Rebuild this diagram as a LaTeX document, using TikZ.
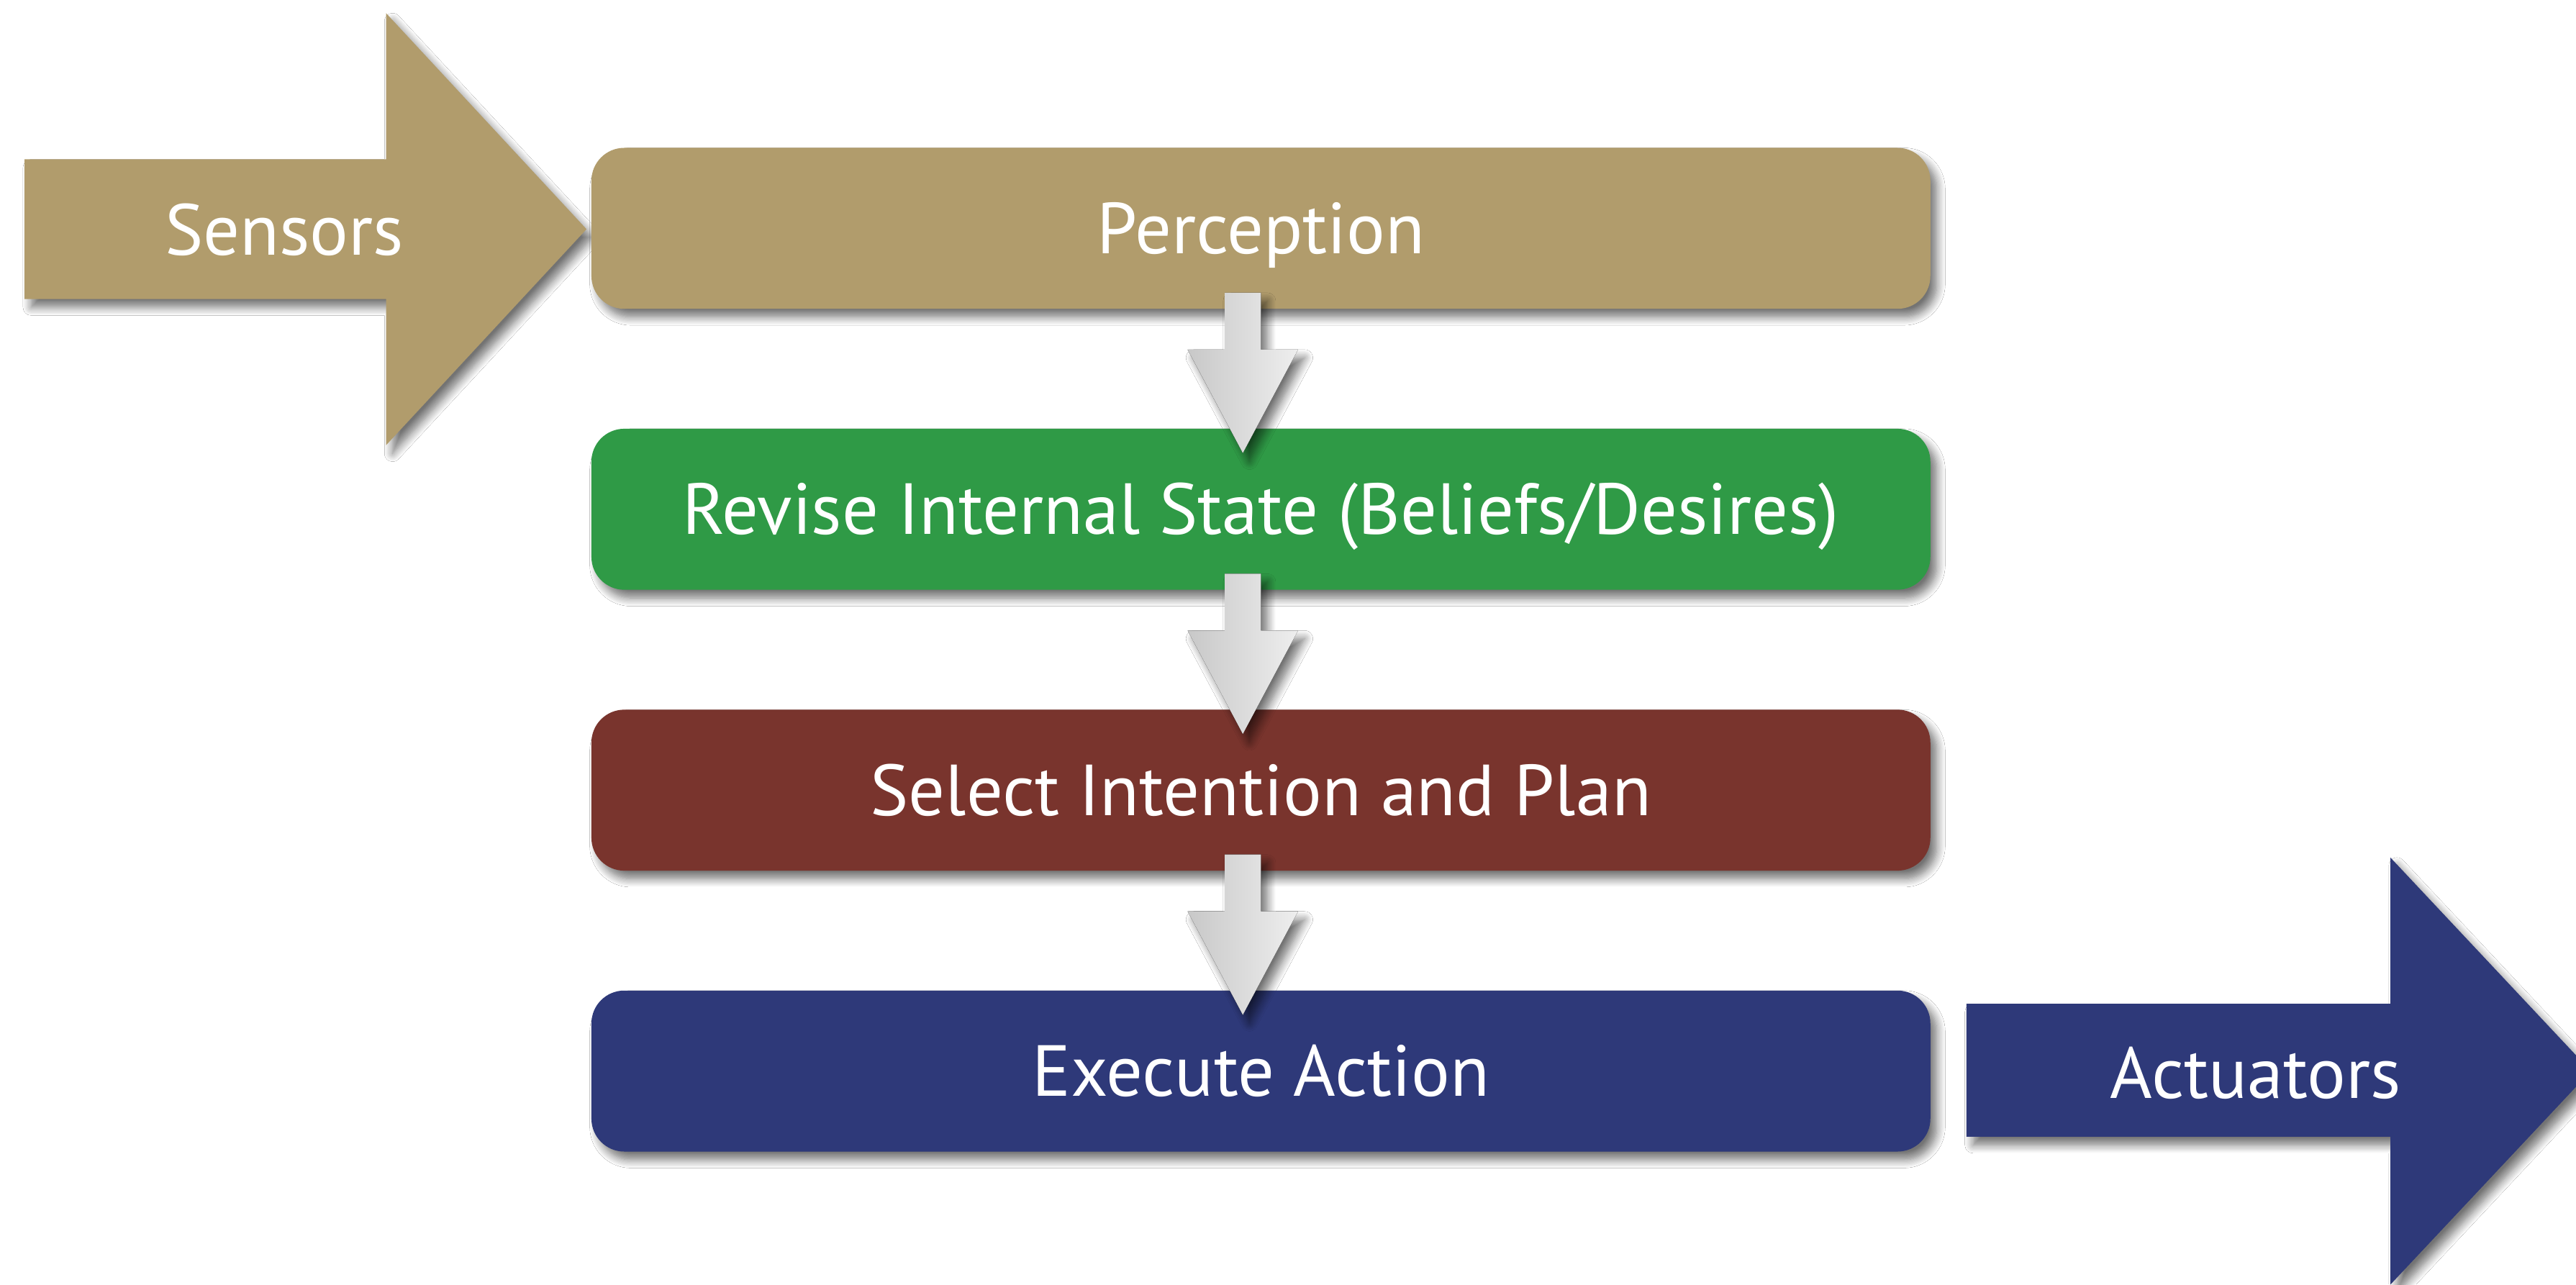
\documentclass[tikz,border=0pt]{standalone}
\usepackage{fontspec}
\setmainfont{PT Sans}
\usetikzlibrary{calc,shadows.blur}
\definecolor{tanc}{RGB}{177,156,108}
\definecolor{greenc}{RGB}{47,154,70}
\definecolor{redc}{RGB}{121,52,45}
\definecolor{bluec}{RGB}{46,57,121}
\definecolor{arrowL}{RGB}{200,200,200}
\definecolor{arrowR}{RGB}{238,238,238}
\newcommand\flowdown[2]{%
  \fill[flowarrow] ($(#1)+(-11,0)$) -- ($(#1)+(11,0)$) -- ($(#2)+(11,-63)$) -- ($(#2)+(33.6,-63)$) -- (#2) -- ($(#2)+(-33.6,-63)$) -- ($(#2)+(-11,-63)$) -- cycle;}
\tikzset{
  papershadow/.style={blur shadow={shadow xshift=4pt, shadow yshift=-5pt, shadow blur steps=10, shadow blur radius=5pt, shadow opacity=55}},
  labelfont/.style={text=white, font=\fontsize{44}{52}\selectfont, text height=30.8pt, text depth=0pt},
  stagebox/.style={rectangle, rounded corners=20pt, minimum width=815pt, minimum height=98pt, inner sep=0pt, labelfont, papershadow},
  bigarrow/.style={papershadow},
  arrowtext/.style={labelfont, inner sep=0pt},
  flowarrow/.style={left color=arrowL, right color=arrowR, papershadow}
}
\begin{document}
\begin{tikzpicture}[x=1pt,y=-1pt]
\useasboundingbox (0,0) rectangle (1568,782);
\clip (0,0) rectangle (1568,782);
\fill[white] (0,0) rectangle (1568,782);
% Sensors arrow
\fill[tanc, bigarrow] (15,97) -- (235,97) -- (235,8) -- (357,139.5) -- (235,271) -- (235,182) -- (15,182) -- cycle;
\node[arrowtext] (sensors) at (173,140) {Sensors};
% Actuators arrow
\fill[bluec, bigarrow] (1197,611) -- (1455,611) -- (1455,522) -- (1577,652) -- (1455,782) -- (1455,692) -- (1197,692) -- cycle;
\node[arrowtext] (actuators) at (1373,653) {Actuators};
% Stage boxes
\node[stagebox, fill=tanc] (perc) at (767.5,139) {Perception};
\node[stagebox, fill=greenc] (rev) at (767.5,310) {Revise Internal State (Beliefs/Desires)};
\node[stagebox, fill=redc] (sel) at (767.5,481) {Select Intention and Plan};
\node[stagebox, fill=bluec] (exe) at (767.5,652) {Execute Action};
% Flow arrows
\coordinate (s1) at ($(perc.south)+(-11,-10)$);
\coordinate (e1) at ($(rev.north)+(-11,15)$);
\coordinate (s2) at ($(rev.south)+(-11,-10)$);
\coordinate (e2) at ($(sel.north)+(-11,15)$);
\coordinate (s3) at ($(sel.south)+(-11,-10)$);
\coordinate (e3) at ($(exe.north)+(-11,15)$);
\flowdown{s1}{e1}
\flowdown{s2}{e2}
\flowdown{s3}{e3}
\end{tikzpicture}
\end{document}
